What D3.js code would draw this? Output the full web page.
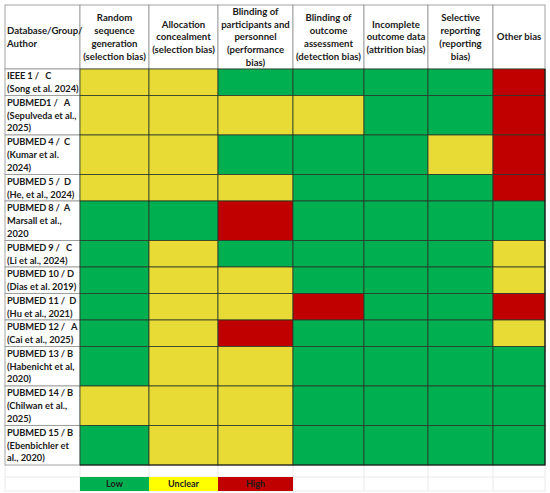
<!DOCTYPE html>
<html>
<head>
<meta charset="utf-8">
<script src="https://cdn.jsdelivr.net/npm/d3@7"></script>
<style>
  body { margin: 0; background: #fff; }
  text { font-family: Lato, "Open Sans", sans-serif; font-weight: 700; fill: #1a1a1a; white-space: pre; }
</style>
</head>
<body>
<svg id="chart" width="550" height="493"></svg>
<script>
// Column headers (wrapped lines)
const headers = [
  ["Database/Group/", "Author"],
  ["Random", "sequence", "generation", "(selection bias)"],
  ["Allocation", "concealment", "(selection bias)"],
  ["Blinding of", "participants and", "personnel", "(performance", "bias)"],
  ["Blinding of", "outcome", "assessment", "(detection bias)"],
  ["Incomplete", "outcome data", "(attrition bias)"],
  ["Selective", "reporting", "(reporting", "bias)"],
  ["Other bias"]
];

// Study labels (wrapped lines)
const studies = [
  ["IEEE 1 /   C", "(Song et al. 2024)"],
  ["PUBMED1 /   A", "(Sepulveda et al.,", "2025)"],
  ["PUBMED 4 /  C", "(Kumar et al.", "2024)"],
  ["PUBMED 5 /  D", "(He, et al., 2024)"],
  ["PUBMED 8 /  A", "Marsall et al.,", "2020"],
  ["PUBMED 9 /   C", "(Li et al., 2024)"],
  ["PUBMED 10 / D", "(Dias et al. 2019)"],
  ["PUBMED 11 /  D", "(Hu et al., 2021)"],
  ["PUBMED 12 /   A", "(Cai et al., 2025)"],
  ["PUBMED 13 / B", "(Habenicht et al,", "2020)"],
  ["PUBMED 14 / B", "(Chilwan et al.,", "2025)"],
  ["PUBMED 15 / B", "(Ebenbichler et", "al., 2020)"]
];

// Risk-of-bias judgement per study, one per domain column
const ratings = [
  ["Unclear", "Unclear", "Low", "Low", "Low", "Low", "High"],
  ["Unclear", "Unclear", "Unclear", "Unclear", "Low", "Low", "High"],
  ["Unclear", "Unclear", "Low", "Low", "Low", "Unclear", "High"],
  ["Unclear", "Unclear", "Unclear", "Low", "Low", "Low", "High"],
  ["Low", "Low", "High", "Low", "Low", "Low", "Low"],
  ["Low", "Unclear", "Low", "Low", "Low", "Low", "Unclear"],
  ["Low", "Unclear", "Unclear", "Low", "Low", "Low", "Unclear"],
  ["Low", "Unclear", "Unclear", "High", "Low", "Low", "High"],
  ["Low", "Unclear", "High", "Low", "Low", "Low", "Unclear"],
  ["Low", "Unclear", "Unclear", "Low", "Low", "Low", "Low"],
  ["Unclear", "Unclear", "Unclear", "Low", "Low", "Low", "Low"],
  ["Low", "Unclear", "Unclear", "Low", "Low", "Low", "Low"]
];

const levels = ["Low", "Unclear", "High"];

// ---- layout ----
const colWidths = [75, 69, 69, 75, 71, 64, 65, 52];
const tableLeft = 5, tableTop = 5, headerH = 64, lineH = 12.8;

const colIds = d3.range(headers.length);
const colX = [tableLeft, ...d3.cumsum(colWidths).map((d) => tableLeft + d)];
const x = d3.scaleOrdinal(colIds, colX);
const w = d3.scaleOrdinal(colIds, colWidths);

const rowHeights = studies.map((s) => s.length * 13 + 0.5);
const rowIds = d3.range(studies.length);
const rowY = [tableTop + headerH, ...d3.cumsum(rowHeights).map((d) => tableTop + headerH + d)];
const y = d3.scaleOrdinal(rowIds, rowY);
const h = d3.scaleOrdinal(rowIds, rowHeights);

const cellColor = d3.scaleOrdinal(levels, ["#00AF50", "#E9DB36", "#C00000"]);
const legendColor = d3.scaleOrdinal(levels, ["#00B050", "#FFFF00", "#C00000"]);

const svg = d3.select("#chart");
const tableRight = colX[colX.length - 1];
const tableBottom = rowY[rowY.length - 1];

// faint spreadsheet gridlines below the table
const grid = svg.append("g").attr("stroke", "#e4e4e4").attr("stroke-width", 0.8);
[tableBottom + 12, tableBottom + 26].forEach((gy) =>
  grid.append("line").attr("x1", tableLeft).attr("x2", tableRight).attr("y1", gy).attr("y2", gy)
);
colX.forEach((gx) =>
  grid.append("line").attr("x1", gx).attr("x2", gx).attr("y1", tableBottom).attr("y2", tableBottom + 26)
);

// header cells
const headG = svg.append("g");
headG.selectAll("rect")
  .data(colIds)
  .join("rect")
  .attr("x", (d) => x(d))
  .attr("y", tableTop)
  .attr("width", (d) => w(d))
  .attr("height", headerH)
  .attr("fill", "#fff")
  .attr("stroke", "#9a9a9a")
  .attr("stroke-width", 0.9);

headG.selectAll("text")
  .data(colIds)
  .join("text")
  .attr("text-anchor", (d) => (d === 0 ? "start" : "middle"))
  .attr("font-size", 9.6)
  .each(function (d) {
    const lines = headers[d];
    const y0 = tableTop + headerH / 2 - ((lines.length - 1) * lineH) / 2;
    d3.select(this).selectAll("tspan")
      .data(lines)
      .join("tspan")
      .attr("x", d === 0 ? x(d) + 2 : x(d) + w(d) / 2)
      .attr("y", (l, i) => y0 + i * lineH)
      .attr("dy", "0.35em")
      .text((l) => l);
  });

// study label cells
const labelG = svg.append("g");
labelG.selectAll("rect")
  .data(rowIds)
  .join("rect")
  .attr("x", x(0))
  .attr("y", (r) => y(r))
  .attr("width", w(0))
  .attr("height", (r) => h(r))
  .attr("fill", "#fff")
  .attr("stroke", "#9a9a9a")
  .attr("stroke-width", 0.9);

labelG.selectAll("text")
  .data(rowIds)
  .join("text")
  .attr("font-size", 9.3)
  .each(function (r) {
    d3.select(this).selectAll("tspan")
      .data(studies[r])
      .join("tspan")
      .attr("x", x(0) + 2)
      .attr("y", (l, i) => y(r) + 7 + i * lineH)
      .attr("dy", "0.35em")
      .attr("letter-spacing", (l, i) => (i === 0 ? -0.15 : 0))
      .text((l) => l);
  });

// rating cells
const cells = rowIds.flatMap((r) => ratings[r].map((v, c) => ({ r, c: c + 1, v })));
svg.append("g")
  .selectAll("rect")
  .data(cells)
  .join("rect")
  .attr("x", (d) => x(d.c))
  .attr("y", (d) => y(d.r))
  .attr("width", (d) => w(d.c))
  .attr("height", (d) => h(d.r))
  .attr("fill", (d) => cellColor(d.v))
  .attr("stroke", "#2a3a2a")
  .attr("stroke-width", 0.8);

// darker outer edge of the coloured block
svg.append("path")
  .attr("d", `M${x(1)},${tableBottom}H${tableRight}V${tableTop + headerH}`)
  .attr("fill", "none")
  .attr("stroke", "#1a1a1a")
  .attr("stroke-width", 1.2);

// legend, placed under domain columns 1..3
const legY = tableBottom + 12;
const legG = svg.append("g");
legG.selectAll("rect")
  .data(levels)
  .join("rect")
  .attr("x", (d, i) => x(i + 1))
  .attr("y", legY)
  .attr("width", (d, i) => w(i + 1))
  .attr("height", 14)
  .attr("fill", (d) => legendColor(d));

legG.selectAll("text")
  .data(levels)
  .join("text")
  .attr("x", (d, i) => x(i + 1) + w(i + 1) / 2)
  .attr("y", legY + 7)
  .attr("dy", "0.35em")
  .attr("text-anchor", "middle")
  .attr("font-size", 9)
  .text((d) => d);
</script>
</body>
</html>
